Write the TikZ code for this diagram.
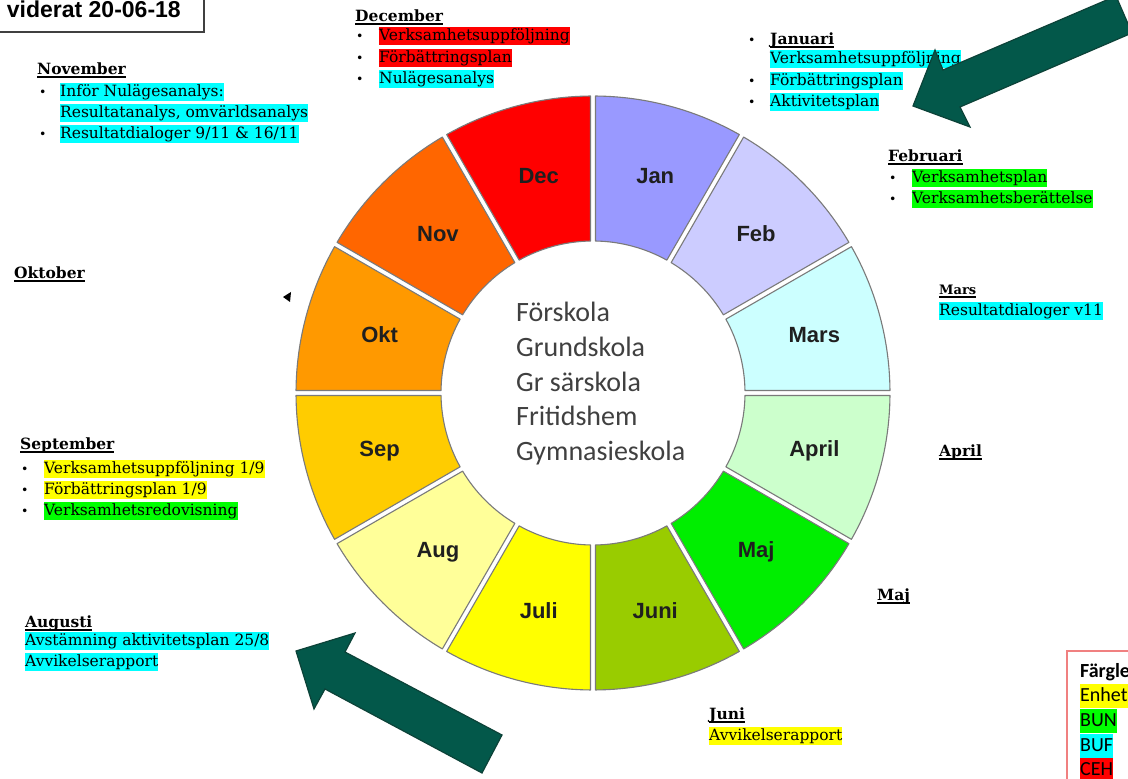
\documentclass[tikz,border=0pt]{standalone}
\usepackage{fontspec}
\setmainfont{DejaVu Serif}
\newfontfamily\sansb{Liberation Sans}
\newfontfamily\calf{Carlito}
\usetikzlibrary{calc}
\definecolor{cJan}{HTML}{9999FF}
\definecolor{cFeb}{HTML}{CCCCFF}
\definecolor{cMar}{HTML}{CCFFFF}
\definecolor{cApr}{HTML}{CCFFCC}
\definecolor{cMaj}{HTML}{00EE00}
\definecolor{cJun}{HTML}{99CC00}
\definecolor{cJul}{HTML}{FFFF00}
\definecolor{cAug}{HTML}{FFFF99}
\definecolor{cSep}{HTML}{FFCC00}
\definecolor{cOkt}{HTML}{FF9900}
\definecolor{cNov}{HTML}{FF6600}
\definecolor{cDec}{HTML}{FF0000}
\definecolor{hcy}{HTML}{00FFFF}
\definecolor{hre}{HTML}{FF0000}
\definecolor{hye}{HTML}{FFFF00}
\definecolor{hgr}{HTML}{00FF00}
\definecolor{arrfill}{RGB}{3,88,74}
\definecolor{arrline}{RGB}{12,66,56}
\definecolor{segline}{HTML}{7A7A7A}
\definecolor{legline}{HTML}{F08080}
\newcommand\hl[2]{{\setlength{\fboxsep}{0pt}\colorbox{#1}{\rule[-4.5pt]{0pt}{18pt}#2}}}
\newcommand\hlg[2]{{\setlength{\fboxsep}{0pt}\colorbox{#1}{\rule[-6pt]{0pt}{24pt}#2}}}
\newcommand\hdu[1]{\setbox0\hbox{#1}\rlap{\rule[-2.6pt]{\wd0}{1.1pt}}\box0}
\tikzset{
  seg/.style={draw=segline, line width=1.1pt, line join=round},
  mlab/.style={font=\sansb\bfseries\fontsize{22}{24}\selectfont, text=black!88},
  txt/.style={anchor=base west, inner sep=0pt, font=\fontsize{15.5}{21}\selectfont},
  hd/.style={anchor=base west, inner sep=0pt, font=\bfseries\fontsize{15.5}{21}\selectfont},
  bul/.style={anchor=base west, inner sep=0pt, font=\fontsize{12.5}{14}\selectfont},
  ctr/.style={anchor=base west, inner sep=0pt, font=\calf\fontsize{28}{34}\selectfont, text=black!75},
  leg/.style={anchor=base west, inner sep=0pt, font=\calf\fontsize{20}{25}\selectfont},
  bigarrow/.style={fill=arrfill, draw=arrline, line width=1.2pt, line join=miter}
}
\begin{document}
\begin{tikzpicture}[x=1pt,y=1pt]
\useasboundingbox (0,0) rectangle (1128,779);
\clip (0,0) rectangle (1128,779);
\fill[white] (0,0) rectangle (1128,779);

% wheel
\begin{scope}[shift={(593,386)}]
\foreach \col [count=\k from 0] in {cJan,cFeb,cMar,cApr,cMaj,cJun,cJul,cAug,cSep,cOkt,cNov,cDec} {
  \pgfmathsetmacro\a{90-30*(\k+1)}
  \pgfmathsetmacro\b{90-30*\k}
  \pgfmathsetmacro\di{asin(2.5/152)}
  \pgfmathsetmacro\do{asin(2.5/297)}
  \pgfmathsetmacro\sa{\a+\do}
  \pgfmathsetmacro\ea{\b-\do}
  \pgfmathsetmacro\sb{\b-\di}
  \pgfmathsetmacro\eb{\a+\di}
  \draw[seg,fill=\col] (\eb:152) -- (\sa:297) arc[start angle=\sa, end angle=\ea, radius=297] -- (\sb:152) arc[start angle=\sb, end angle=\eb, radius=152] -- cycle;
}
\end{scope}
\begin{scope}[shift={(597,386)}]
\foreach \t [count=\k from 0] in {Jan,Feb,Mars,April,Maj,Juni,Juli,Aug,Sep,Okt,Nov,Dec}
  \node[mlab] (m\k) at ({75-30*\k}:225) {\t};
\end{scope}

% centre text
\node[ctr] (c1) at (516,779-322) {Förskola};
\node[ctr] (c2) at (516,779-357) {Grundskola};
\node[ctr] (c3) at (516,779-392) {Gr särskola};
\node[ctr] (c4) at (516,779-426) {Fritidshem};
\node[ctr] (c5) at (516,779-461) {Gymnasieskola};

% revision box
\draw[line width=1.3pt, draw=black!75] (-5,784) rectangle (204,779-32);
\node[anchor=base east, inner sep=0pt, font=\sansb\bfseries\fontsize{23}{24}\selectfont] (rev) at (181,779-18) {viderat 20-06-18};

% November
\node[hd] (novh) at (37,779-75) {\hdu{November}};
\node[bul] (novb1) at (39,779-97) {•};
\node[txt] (nov1) at (60,779-97) {\hl{hcy}{Inför Nulägesanalys:}};
\node[txt] (nov2) at (60,779-118) {\hl{hcy}{Resultatanalys, omvärldsanalys}};
\node[bul] (novb3) at (39,779-139) {•};
\node[txt] (nov3) at (60,779-139) {\hl{hcy}{Resultatdialoger 9/11 \& 16/11}};

% December
\node[hd] (dech) at (355,779-22) {\hdu{December}};
\node[bul] (decb1) at (356,779-41) {•};
\node[txt] (dec1) at (379,779-41) {\hl{hre}{Verksamhetsuppföljning}};
\node[bul] (decb2) at (356,779-62.5) {•};
\node[txt] (dec2) at (379,779-62.5) {\hl{hre}{Förbättringsplan}};
\node[bul] (decb3) at (356,779-84) {•};
\node[txt] (dec3) at (379,779-84) {\hl{hcy}{Nulägesanalys}};

% Januari
\node[bul] (janb0) at (748,779-45) {•};
\node[hd] (janh) at (770,779-45) {\hdu{Januari}};
\node[txt] (jan1) at (770,779-64) {\hl{hcy}{Verksamhetsuppföljning}};
\node[bul] (janb2) at (748,779-86) {•};
\node[txt] (jan2) at (770,779-86) {\hl{hcy}{Förbättringsplan}};
\node[bul] (janb3) at (748,779-107) {•};
\node[txt] (jan3) at (770,779-107) {\hl{hcy}{Aktivitetsplan}};

% Februari
\node[hd] (febh) at (888,779-162) {\hdu{Februari}};
\node[bul] (febb1) at (889,779-183) {•};
\node[txt] (feb1) at (912,779-183) {\hl{hgr}{Verksamhetsplan}};
\node[bul] (febb2) at (889,779-204) {•};
\node[txt] (feb2) at (912,779-204) {\hl{hgr}{Verksamhetsberättelse}};

% Mars
\node[hd, font=\bfseries\fontsize{13}{16}\selectfont] (marh) at (939,779-295) {\hdu{Mars}};
\node[txt] (mar1) at (939,779-316) {\hl{hcy}{Resultatdialoger v11}};

% April, Maj
\node[hd] (aprh) at (939,779-457) {\hdu{April}};
\node[hd] (majh) at (877,779-601) {\hdu{Maj}};

% Juni
\node[hd] (junh) at (709,779-720) {\hdu{Juni}};
\node[txt] (jun1) at (709,779-741) {\hl{hye}{Avvikelserapport}};

% Augusti
\node[hd] (augh) at (25,779-628) {\hdu{Augusti}};
\node[txt] (aug1) at (25,779-646) {\hl{hcy}{Avstämning aktivitetsplan 25/8}};
\node[txt] (aug2) at (25,779-667) {\hl{hcy}{Avvikelserapport}};

% September
\node[hd] (seph) at (20,779-450) {\hdu{September}};
\node[bul] (sepb1) at (21,779-474) {•};
\node[txt] (sep1) at (44,779-474) {\hl{hye}{Verksamhetsuppföljning 1/9}};
\node[bul] (sepb2) at (21,779-495) {•};
\node[txt] (sep2) at (44,779-495) {\hl{hye}{Förbättringsplan 1/9}};
\node[bul] (sepb3) at (21,779-516) {•};
\node[txt] (sep3) at (44,779-516) {\hl{hgr}{Verksamhetsredovisning}};

% Oktober
\node[hd] (okth) at (14,779-279) {\hdu{Oktober}};

% small triangle
\fill[black] (283,779-297) -- (291,779-292) -- (290,779-302) -- cycle;

% legend
\draw[legline, line width=1.4pt] (1067,779-651) rectangle (1140,-10);
\node[leg, font=\calf\bfseries\fontsize{20}{25}\selectfont] (lg0) at (1080,779-678) {Färgle};
\node[leg] (lg1) at (1080,779-702) {\hlg{hye}{Enhet}};
\node[leg] (lg2) at (1080,779-727) {\hlg{hgr}{BUN}};
\node[leg] (lg3) at (1080,779-752) {\hlg{hcy}{BUF}};
\node[leg] (lg4) at (1080,779-776) {\hlg{hre}{CEH}};

% big arrows
\draw[bigarrow] (1116,779+4) -- (943,779-70) -- (935,779-50) -- (913,779-106) -- (970,779-127) -- (960,779-107) -- (1132,779-33) -- cycle;
\draw[bigarrow] (296,779-651) -- (355,779-633) -- (345,779-652) -- (502,779-735) -- (482,779-773) -- (325,779-689) -- (314,779-709) -- cycle;
\end{tikzpicture}
\end{document}
